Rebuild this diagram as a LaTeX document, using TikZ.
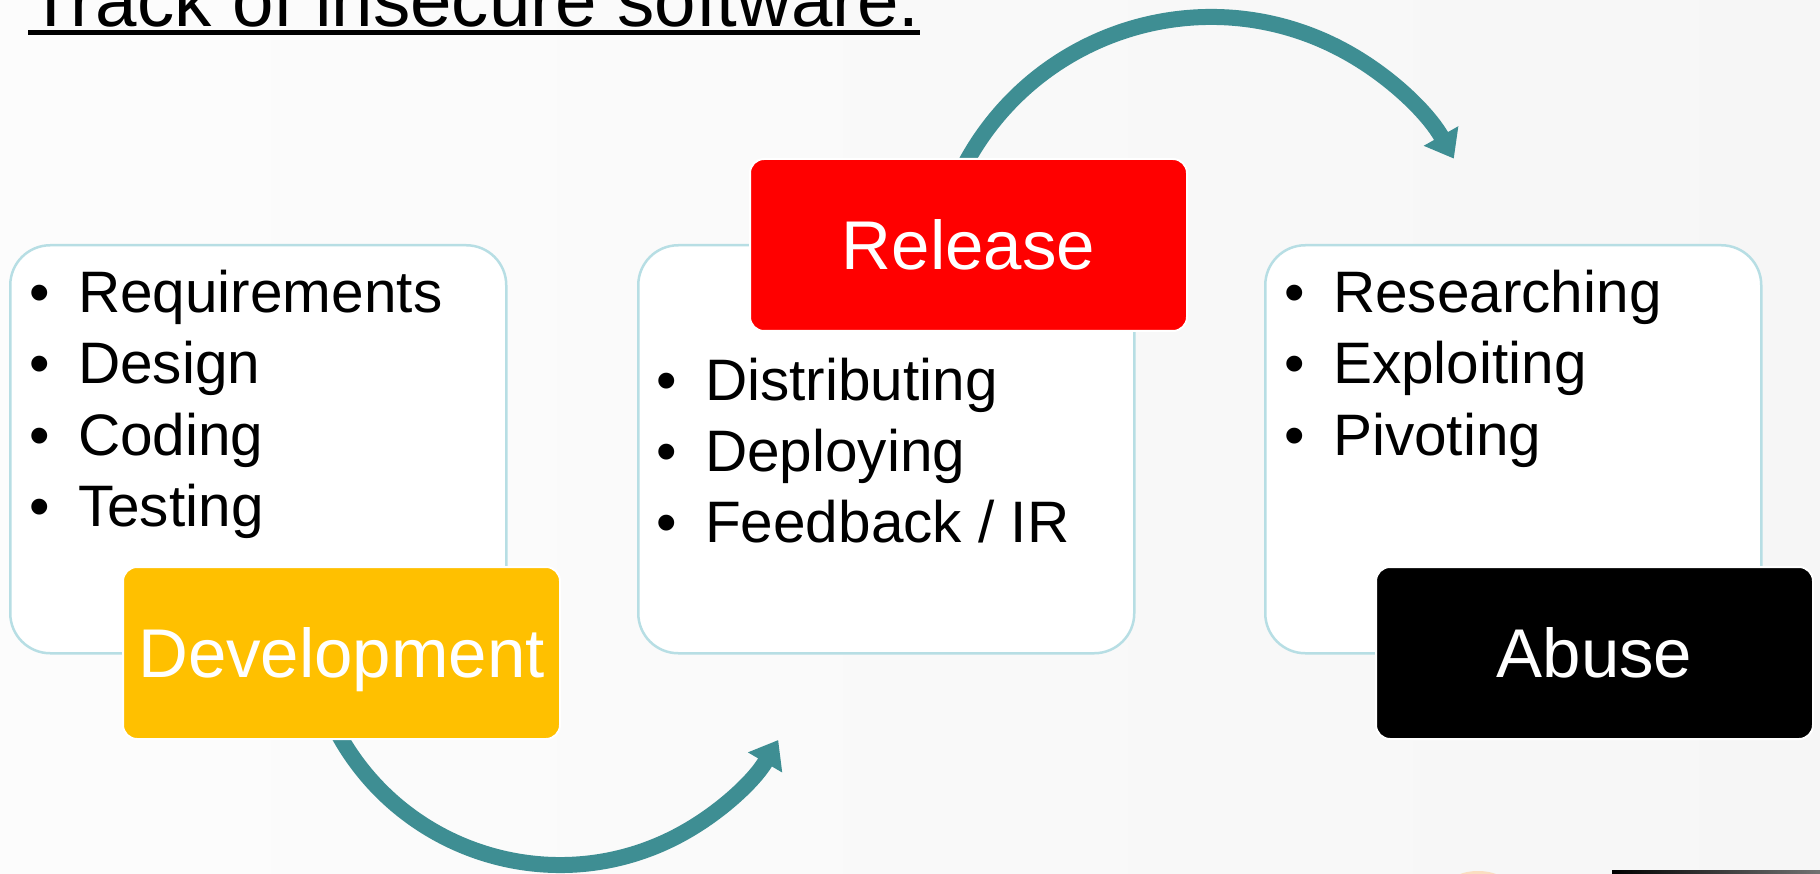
\documentclass[tikz,border=0pt]{standalone}
\usepackage{fontspec}
\setmainfont{Liberation Sans}
\usetikzlibrary{arrows.meta,calc}
\definecolor{teal1}{RGB}{62,142,147}
\definecolor{boxline}{RGB}{183,222,228}
\definecolor{gold1}{RGB}{255,192,0}
\definecolor{red1}{RGB}{255,0,0}
\begin{document}
\begin{tikzpicture}[x=1pt,y=-1pt,
  contentbox/.style={draw=boxline, line width=2.5pt, fill=white, rounded corners=40pt,
    minimum width=496pt, minimum height=408pt, anchor=north west, inner sep=0pt},
  labelbox/.style={draw=white, line width=2pt, rounded corners=14pt,
    minimum width=437pt, minimum height=172pt, anchor=north west, inner sep=0pt,
    text=white, font=\fontsize{69}{80}\selectfont, text height=49pt, text depth=0pt},
  item/.style={anchor=base west, inner sep=0pt, font=\fontsize{58.5}{70}\selectfont},
  arr/.style={draw=teal1, line width=16pt, -{Triangle[width=38pt,length=26pt]}}
]
\useasboundingbox (0,0) rectangle (1820,874);
\clip (0,0) rectangle (1820,874);
\shade[left color=white!99!black, right color=white!96.5!black] (0,0) rectangle (1820,874);

% title
\node[anchor=base west, inner sep=0pt, font=\fontsize{74.5}{80}\selectfont] (title) at (28,27) {Track of insecure software.};
\draw[line width=5pt] ($(title.base west)+(0,6)$) -- ($(title.base east)+(0,6)$);

% content boxes
\node[contentbox] (c1) at (9,244) {};
\node[contentbox] (c2) at (637,244) {};
\node[contentbox] (c3) at (1264,244) {};

% items
\node[item] (i11) at (29,313) {\makebox[49pt][l]{•}Requirements};
\node[item] (i12) at (29,384) {\makebox[49pt][l]{•}Design};
\node[item] (i13) at (29,455) {\makebox[49pt][l]{•}Coding};
\node[item] (i14) at (29,526) {\makebox[49pt][l]{•}Testing};

\node[item] (i21) at (656,400) {\makebox[49pt][l]{•}Distributing};
\node[item] (i22) at (656,471) {\makebox[49pt][l]{•}Deploying};
\node[item] (i23) at (656,542) {\makebox[49pt][l]{•}Feedback / IR};

\node[item] (i31) at (1284,313) {\makebox[49pt][l]{•}Researching};
\node[item] (i32) at (1284,384) {\makebox[49pt][l]{•}Exploiting};
\node[item] (i33) at (1284,455) {\makebox[49pt][l]{•}Pivoting};

% arrows
\coordinate (a1s) at ({560+253*cos(152.2)},{612+253*sin(152.2)});
\draw[arr] (a1s) arc[start angle=152.2, end angle=30.4, radius=253];
\coordinate (a2s) at ({1211+279*cos(-152)},{296+279*sin(-152)});
\draw[arr] (a2s) arc[start angle=-152, end angle=-29.5, radius=279];

% label boxes
\node[labelbox, fill=gold1] (dev) at (122,566) {Development};
\node[labelbox, fill=red1] (rel) at (749,158) {Release};
\node[labelbox, fill=black] (abu) at (1375,566) {Abuse};

% cut-off bits at the bottom right
\fill[orange!45, opacity=0.5] (1478,882) ellipse [x radius=26, y radius=11];
\shade[left color=black, right color=black!55] (1612,870) rectangle (1820,874);
\end{tikzpicture}
\end{document}
